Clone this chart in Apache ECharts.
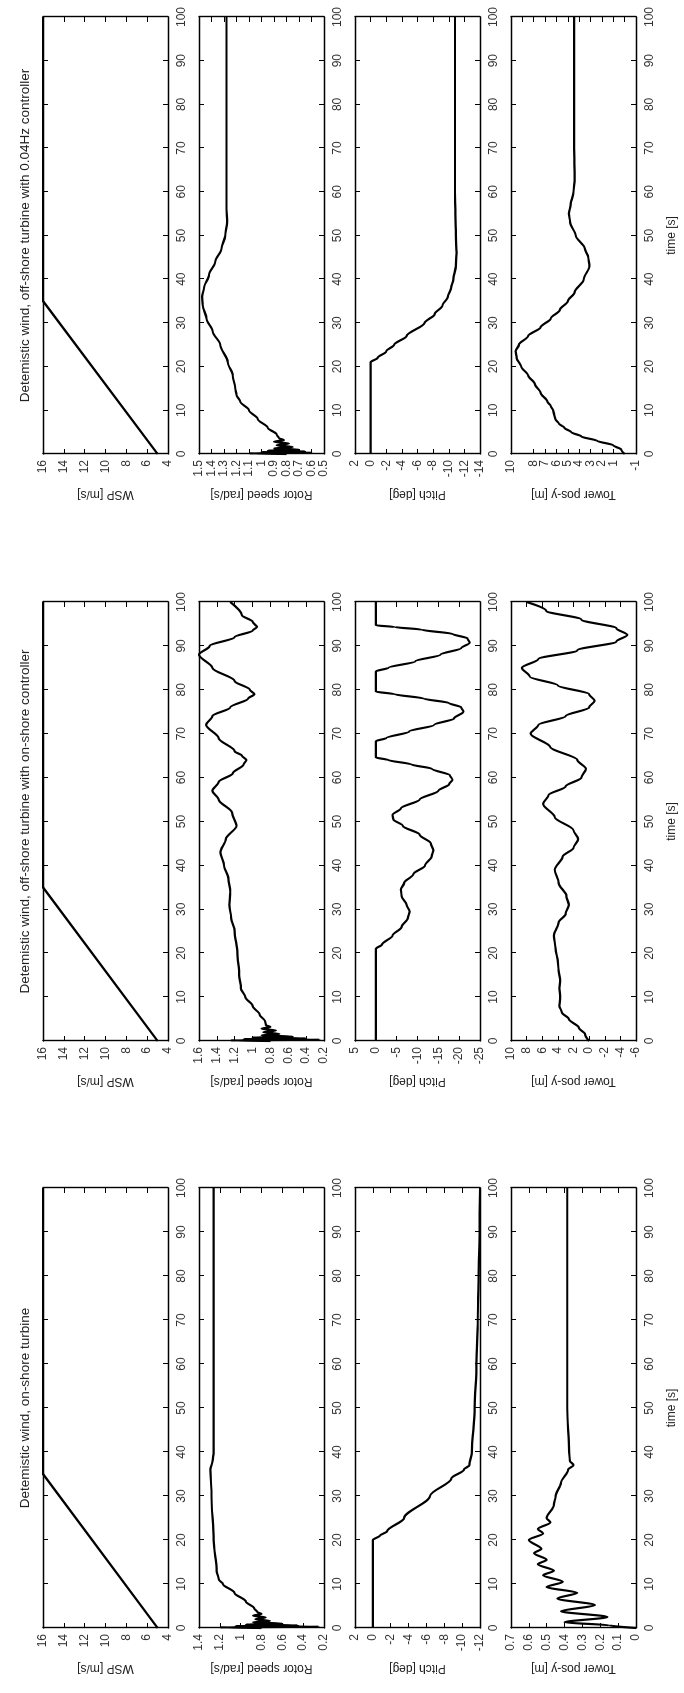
<!DOCTYPE html>
<html>
<head>
<meta charset="utf-8">
<script src="https://cdn.jsdelivr.net/npm/echarts@6/dist/echarts.min.js"></script>
<style>
  html, body { margin: 0; padding: 0; background: #fff; }
  body { width: 684px; height: 1693px; overflow: hidden; position: relative; }
  /* the figure is drawn landscape and turned a quarter turn, like the scanned page */
  #chart { position: absolute; left: 0; top: 0; width: 1693px; height: 684px;
    transform-origin: 0 0; transform: translate(0, 1693px) rotate(-90deg); }
</style>
</head>
<body>
<div id="chart"></div>
<script>
// titles of the three cases (columns) and the four signals (rows)
const caseTitles = [
  'Detemistic wind, on-shore turbine',
  'Detemistic wind, off-shore turbine with on-shore controller',
  'Detemistic wind, off-shore turbine with 0.04Hz controller'
]
const rowLabels = ['WSP [m/s]', 'Rotor speed [rad/s]', 'Pitch [deg]', 'Tower pos-y [m]']

// value axes [min, max, step] per row, one entry per case
const wspAxes = [[4, 16, 2], [4, 16, 2], [4, 16, 2]]
const rotorAxes = [[0.2, 1.4, 0.2], [0.2, 1.6, 0.2], [0.5, 1.5, 0.1]]
const pitchAxes = [[-12, 2, 2], [-25, 5, 5], [-14, 2, 2]]
const towerAxes = [[0, 0.7, 0.1], [-6, 10, 2], [-1, 10, 1]]

// wind speed ramp, same in all three cases  [time, value]
const wsp = [[0, 5], [35, 16], [100, 16]]

// on-shore turbine
const rotor1 = [[0, 0.8], [0.15, 1.2], [0.3, 0.25], [0.45, 1.05], [0.6, 0.45], [0.8, 0.95], [1.0, 0.6], [1.3, 0.88],
  [1.6, 0.72], [2, 0.86], [2.4, 0.76], [2.8, 0.88], [3.2, 0.8], [3.6, 0.84], [4.5, 0.87], [6, 0.95], [8, 1.06],
  [10, 1.17], [11, 1.21], [13, 1.23], [20, 1.26], [30, 1.28], [36, 1.29], [38, 1.27], [40, 1.26], [50, 1.26], [100, 1.26]]
const pitch1 = [[0, 0], [20, 0], [21, -0.8], [22, -1.6], [25, -3.5], [30, -6.4], [34, -8.8], [36, -10.2], [37, -10.8],
  [40, -11.1], [50, -11.4], [60, -11.6], [70, -11.75], [80, -11.85], [90, -11.95], [100, -12]]
const tower1 = [[0, 0], [0.6, 0.15], [1.3, 0.4], [2.5, 0.16], [3.8, 0.42], [5.2, 0.23], [6.7, 0.44], [8, 0.33],
  [9.3, 0.5], [10.5, 0.41], [12, 0.52], [13, 0.46], [14.5, 0.55], [15.5, 0.5], [17, 0.57], [18, 0.53], [20, 0.6],
  [21.5, 0.52], [22.5, 0.55], [24, 0.48], [25, 0.5], [28, 0.46], [30, 0.45], [33, 0.42], [36, 0.38], [37, 0.35],
  [38, 0.37], [40, 0.375], [50, 0.385], [100, 0.385]]

// off-shore turbine, on-shore controller
const rotor2 = [[0, 0.8], [0.15, 1.25], [0.3, 0.25], [0.45, 1.1], [0.6, 0.4], [0.8, 1.0], [1.0, 0.55], [1.3, 0.9],
  [1.6, 0.7], [2, 0.88], [2.4, 0.74], [2.8, 0.9], [3.2, 0.8], [3.6, 0.85], [4.5, 0.86], [6, 0.92], [8, 1.0], [10, 1.08],
  [12, 1.13], [15, 1.15], [20, 1.17], [25, 1.2], [28, 1.24], [31, 1.26], [34, 1.25], [37, 1.27], [40, 1.32], [43, 1.36],
  [46, 1.3], [49, 1.18], [52, 1.23], [55, 1.38], [57, 1.45], [59, 1.38], [61, 1.22], [63, 1.1], [64, 1.07], [65, 1.12],
  [66, 1.2], [69, 1.38], [72, 1.52], [74, 1.45], [76, 1.25], [78, 1.05], [79, 0.98], [80, 1.03], [82, 1.2], [85, 1.45],
  [88, 1.6], [90, 1.48], [92, 1.2], [93.5, 1.0], [94.3, 0.95], [95.5, 1.0], [97, 1.12], [100, 1.25]]
const pitch2 = [[0, 0], [21, 0], [22, -1.5], [24, -4], [26, -6.2], [28, -7.7], [29.5, -8.1], [31, -7.4], [33, -6.2],
  [34.5, -6.0], [36, -6.8], [38, -9], [40, -11.8], [42, -13.4], [43.5, -13.8], [45, -13.2], [47, -10.5], [49, -6.5],
  [50.5, -4.2], [51.5, -4.0], [53, -6.0], [55, -10.5], [57, -15], [58.5, -17.6], [59.5, -18.4], [60.5, -17.8],
  [62, -13.5], [63, -8.5], [64, -3], [64.6, 0], [68.3, 0], [69, -2.5], [70.5, -8], [72, -14], [73.5, -18.8], [75, -21],
  [76, -20.5], [77, -17.5], [78, -11.5], [79, -4.5], [79.6, 0], [84.2, 0], [85, -3], [86.5, -9.5], [88, -15.5],
  [89.5, -20.5], [90.7, -22.5], [91.7, -22], [92.7, -18.5], [93.7, -11], [94.3, -4.5], [94.7, 0], [100, 0]]
const tower2 = [[0, 0], [1.5, 0.5], [3, 1.3], [5, 2.6], [6.5, 3.5], [8, 3.8], [10, 3.7], [12, 3.8], [14, 3.7], [16, 3.9],
  [18, 4.0], [21, 4.3], [24, 4.5], [27, 3.9], [29, 3.0], [31, 2.6], [33, 2.9], [36, 3.9], [39, 4.4], [42, 3.4], [44, 2.0],
  [46, 1.4], [48, 2.0], [51, 4.4], [54, 5.9], [56, 5.2], [58, 3.0], [60, 1.0], [62, 0.4], [64, 1.5], [67, 5.0], [70, 7.5],
  [72, 6.5], [74, 3.0], [76, 0.0], [77.5, -0.7], [79, 0.0], [81, 4.0], [83, 7.6], [85, 8.6], [87, 6.5], [89, 1.5],
  [91, -3.5], [92.5, -4.9], [94, -3.5], [96, 1.0], [98, 5.5], [100, 8.0]]

// off-shore turbine, 0.04Hz controller
const rotor3 = [[0, 0.8], [0.15, 1.1], [0.3, 0.6], [0.45, 1.0], [0.6, 0.65], [0.8, 0.95], [1.0, 0.7], [1.3, 0.9],
  [1.6, 0.75], [2, 0.88], [2.4, 0.78], [2.8, 0.9], [3.2, 0.82], [3.6, 0.86], [4.5, 0.88], [6, 0.95], [8, 1.03],
  [10, 1.1], [12, 1.17], [13.5, 1.2], [15, 1.21], [18, 1.23], [21, 1.27], [25, 1.33], [28, 1.39], [31, 1.44],
  [34, 1.47], [36, 1.475], [38, 1.46], [41, 1.42], [44, 1.37], [47, 1.32], [50, 1.29], [53, 1.275], [56, 1.28],
  [60, 1.28], [100, 1.28]]
const pitch3 = [[0, 0], [21, 0], [22, -0.9], [23.5, -2], [25, -3], [27, -4.6], [30, -6.9], [32, -8.2], [34, -9.2],
  [36, -9.9], [38, -10.3], [40, -10.6], [43, -10.9], [46, -11.0], [50, -10.9], [55, -10.85], [60, -10.8], [100, -10.8]]
const tower3 = [[0, 0], [1, 0.3], [2, 1.0], [3, 2.4], [4, 3.8], [5, 4.7], [6, 5.3], [7, 5.8], [8, 6.1], [9, 6.2],
  [10, 6.3], [11, 6.5], [12, 6.8], [14, 7.4], [16, 7.9], [18, 8.5], [20, 9.1], [22, 9.5], [23.5, 9.6], [25, 9.3],
  [27, 8.5], [29, 7.4], [31, 6.5], [33, 5.7], [35, 5.0], [37, 4.4], [40, 3.6], [43, 3.1], [45, 3.2], [47, 3.5],
  [50, 4.3], [53, 4.8], [55, 4.9], [57, 4.75], [60, 4.5], [63, 4.4], [70, 4.45], [100, 4.45]]

const valueAxes = [wspAxes, rotorAxes, pitchAxes, towerAxes]
const curves = [
  [wsp, wsp, wsp],
  [rotor1, rotor2, rotor3],
  [pitch1, pitch2, pitch3],
  [tower1, tower2, tower3]
]

// layout of the landscape figure
const caseLefts = [65, 652, 1239]
const caseWidths = [440, 439, 437]
const rowTops = [43, 199, 355, 511]
const rowHeight = 125

const font = 'Liberation Sans'
const black = '#000'

const chart = echarts.init(document.getElementById('chart'))

const grids = [], xAxes = [], yAxes = [], series = [], graphics = []

caseLefts.forEach((left, c) => {
  // column title
  graphics.push({
    type: 'text',
    x: left + caseWidths[c] / 2,
    y: 25,
    style: {
      text: caseTitles[c], fill: '#222', fontSize: 13.5, fontFamily: font,
      align: 'center', verticalAlign: 'middle', textAlign: 'center', textVerticalAlign: 'middle'
    }
  })

  rowTops.forEach((top, r) => {
    const g = grids.length
    const [vmin, vmax, vstep] = valueAxes[r][c]
    const bottomRow = r === rowTops.length - 1
    grids.push({ left, top, width: caseWidths[c], height: rowHeight })

    const lineStyle = { color: black, width: 1.4 }
    const tick = { show: true, inside: true, length: 5, lineStyle: { color: black, width: 1 } }

    // time axis below, plain box edge on top
    xAxes.push({
      gridIndex: g, type: 'value', position: 'bottom', min: 0, max: 100, interval: 10,
      name: bottomRow ? 'time [s]' : '', nameLocation: 'middle', nameGap: 30,
      nameTextStyle: { color: '#222', fontSize: 12, fontFamily: font },
      axisLine: { show: true, onZero: false, lineStyle },
      axisTick: tick,
      axisLabel: { color: '#333', fontSize: 12, fontFamily: font, margin: 8,
        showMinLabel: true, showMaxLabel: true, hideOverlap: false },
      splitLine: { show: false }
    })
    xAxes.push({
      gridIndex: g, type: 'value', position: 'top', min: 0, max: 100, interval: 10,
      axisLine: { show: true, onZero: false, lineStyle },
      axisTick: tick, axisLabel: { show: false }, splitLine: { show: false }
    })

    // value axis left, plain box edge right
    yAxes.push({
      gridIndex: g, type: 'value', position: 'left', min: vmin, max: vmax, interval: vstep,
      name: rowLabels[r], nameLocation: 'middle', nameGap: 34, nameRotate: 90,
      nameTextStyle: { color: '#222', fontSize: 12, fontFamily: font },
      axisLine: { show: true, onZero: false, lineStyle },
      axisTick: tick,
      axisLabel: { color: '#333', fontSize: 12, fontFamily: font, margin: 6,
        showMinLabel: true, showMaxLabel: true, hideOverlap: false },
      splitLine: { show: false }
    })
    yAxes.push({
      gridIndex: g, type: 'value', position: 'right', min: vmin, max: vmax, interval: vstep,
      axisLine: { show: true, onZero: false, lineStyle },
      axisTick: tick, axisLabel: { show: false }, splitLine: { show: false }
    })

    series.push({
      type: 'line',
      xAxisIndex: 2 * g,
      yAxisIndex: 2 * g,
      data: curves[r][c],
      showSymbol: false,
      smooth: r === 0 ? false : 0.3,
      smoothMonotone: 'x',
      lineStyle: { color: black, width: 2.2 },
      silent: true
    })
  })
})

chart.setOption({
  animation: false,
  backgroundColor: '#fff',
  grid: grids,
  xAxis: xAxes,
  yAxis: yAxes,
  series,
  graphic: graphics
})
</script>
</body>
</html>
